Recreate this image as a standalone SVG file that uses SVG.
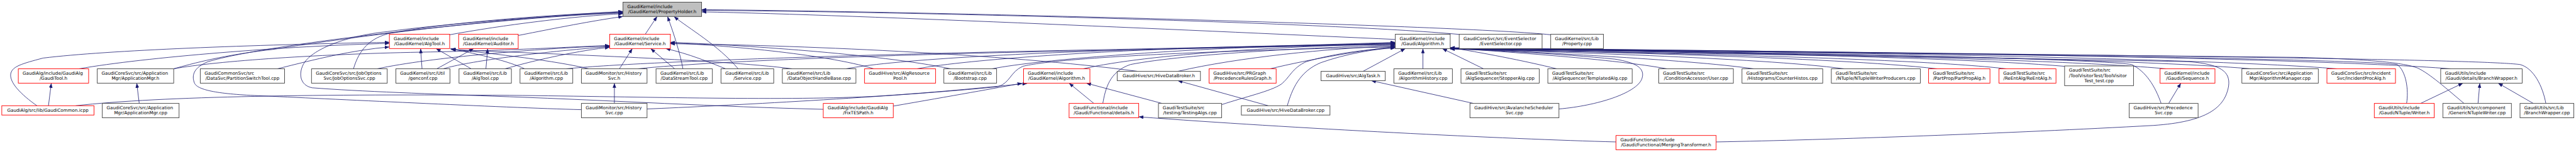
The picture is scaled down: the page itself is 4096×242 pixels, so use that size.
<svg xmlns="http://www.w3.org/2000/svg" width="4096" height="242" viewBox="0 0 4096 242">
<style>
.n rect{fill:#fff;stroke:#404040;stroke-width:1.6}
.r rect{stroke:#ff0000}
.root rect{fill:#bfbfbf;stroke:#404040}
text{font-family:"DejaVu Sans","Liberation Sans",sans-serif;font-size:12.6px;fill:#000}
.m{text-anchor:middle}
.e path{fill:none;stroke:#191970;stroke-width:1.4;marker-end:url(#a)}
</style>
<defs>
<marker id="a" markerUnits="userSpaceOnUse" markerWidth="13" markerHeight="10" refX="13" refY="5" orient="auto" viewBox="0 0 13 10"><path d="M0,0L13,5L0,10z" fill="#191970"/></marker>
</defs>
<rect width="4096" height="242" fill="#fff"/>
<g transform="scale(0.570632)">
<g id="edges" class="e">
<path d="M1253,97 C1400,70 1600,45 1736,38"/>
<path d="M1444,99 C1550,78 1650,58 1736,46"/>
<path d="M985,192 C1000,140 1030,105 1090,92 C1250,62 1550,40 1736,33"/>
<path d="M484,192 C560,170 650,150 760,138 C1000,100 1400,50 1736,32"/>
<path d="M1620,306 C1400,300 900,275 720,267 C600,262 550,250 542,232 C533,210 540,188 580,172 C750,120 1450,45 1736,36"/>
<path d="M2294,305 C2000,298 1700,280 1420,270 C1200,262 1000,255 870,245 C835,238 832,205 845,180 C865,140 960,100 1081,88 C1250,65 1550,42 1736,35"/>
<path d="M1798,95.5 L1831,46"/>
<path d="M1903,192 C1895,150 1880,100 1860,46"/>
<path d="M2057,192 C2000,125 1920,80 1878,46"/>
<path d="M3888,110 C3400,88 2400,42 1955,33"/>
<path d="M4066,96 C3700,62 2500,32 1955,29"/>
<path d="M4321,97 C4100,72 2600,32 1955,27"/>
<path d="M103,295 C60,265 25,230 30,205 C35,185 60,178 120,162 C300,140 700,125 1085,118"/>
<path d="M220,192 C400,160 800,128 1085,121"/>
<path d="M773,192 C880,165 980,140 1085,131"/>
<path d="M484,192 C600,170 900,150 1200,145 C1450,140 1600,130 1699,127"/>
<path d="M1176,192 L1172,135.5"/>
<path d="M1313,192 L1215,135.5"/>
<path d="M1462,192 C1420,172 1340,152 1255,136"/>
<path d="M1641,192 C1550,170 1380,150 1256,137"/>
<path d="M2208,192 C2000,165 1500,150 1257,138"/>
<path d="M1217,192 L1320,135.5"/>
<path d="M1354,192 L1359,135.5"/>
<path d="M1051,192 C1200,160 1500,135 1699,128"/>
<path d="M1235,192 C1300,172 1500,145 1699,130"/>
<path d="M1407,192 C1500,165 1620,140 1699,132"/>
<path d="M1726,192 L1762,135.5"/>
<path d="M1880,192 L1813,135.5"/>
<path d="M2022,192 C1980,175 1920,150 1855,135.5"/>
<path d="M2435,192 C2300,150 2000,125 1868,120"/>
<path d="M2649,192 C2450,150 2050,125 1868,118"/>
<path d="M3170,199 C2800,150 2200,125 1868,122"/>
<path d="M2489,296 C2650,268 2780,245 2848,232"/>
<path d="M211,295 C450,268 900,262 1420,266 C1800,270 2200,282 2450,268 C2650,255 2780,240 2862,233"/>
<path d="M3048,288.5 L2979,232"/>
<path d="M3238,288.5 L3027,232"/>
<path d="M3018,192 C3200,150 3600,128 3888,122"/>
<path d="M3073,288.5 C3080,250 3090,200 3150,180 C3300,150 3700,130 3888,126"/>
<path d="M3282,199 C3450,160 3700,135 3888,128"/>
<path d="M3539,192 C3650,165 3800,140 3888,130"/>
<path d="M3587,295 C3600,250 3620,200 3680,175 C3750,150 3830,137 3888,133"/>
<path d="M3404,292 C3470,270 3540,255 3570,235 C3595,215 3600,190 3640,172 C3720,148 3830,135 3888,134"/>
<path d="M1577,192 C1800,170 2500,150 3000,140 C3400,132 3700,125 3888,118"/>
<path d="M1777,192 C2000,168 2600,150 3000,142 C3400,135 3700,126 3888,120"/>
<path d="M2357,192 C2500,165 2900,145 3300,135 C3600,128 3800,122 3888,121"/>
<path d="M2555,192 C2700,165 3100,140 3400,132 C3650,126 3800,124 3888,123"/>
<path d="M2764,192 C2900,165 3300,138 3500,132 C3700,127 3820,125 3888,124"/>
<path d="M1803,304 C2000,296 2500,270 2780,242 C2815,232 2815,200 2850,185 C2950,160 3400,140 3888,131"/>
<path d="M3798,199 L3916,135.5"/>
<path d="M3965,192 L3965,135.5"/>
<path d="M4134,192 L4019,135.5"/>
<path d="M4338,192 C4250,170 4120,145 4041,133"/>
<path d="M4645,192 C4500,165 4200,145 4041,134"/>
<path d="M4887,192 C4700,165 4250,145 4041,134"/>
<path d="M5139,192 C4900,160 4300,145 4041,135"/>
<path d="M5398,192 C5100,158 4400,145 4041,135"/>
<path d="M5591,192 C5300,158 4400,145 4041,135"/>
<path d="M5753,185 C5400,155 4500,143 4041,134"/>
<path d="M6036,192 C5700,160 4600,143 4041,134"/>
<path d="M6273,192 C5900,160 4700,143 4041,135"/>
<path d="M6512,192 C6100,158 4800,142 4041,134"/>
<path d="M6829,192 C6400,158 5000,142 4041,134"/>
<path d="M6022,288.5 C6005,240 5980,200 5940,180 C5800,160 4800,145 4041,136"/>
<path d="M6706,288.5 C6712,250 6705,200 6680,180 C6500,160 5000,145 4041,135"/>
<path d="M6866,288.5 C6820,250 6770,205 6737,190 C6700,175 6600,165 6400,160 C5500,150 4600,142 4041,134"/>
<path d="M7094,288.5 C7085,240 7060,190 7022,180 C6900,165 6000,155 4041,133"/>
<path d="M4344,304 C4450,295 4560,260 4575,220 C4585,190 4560,175 4500,165 C4350,150 4150,140 4041,136"/>
<path d="M4782,396 C5100,390 5600,372 6000,350 C6150,340 6200,300 6210,240 C6215,200 6190,180 6100,172 C5500,160 4600,148 4041,137"/>
<path d="M6043,288.5 L6077,232"/>
<path d="M6745,288.5 L6863,232"/>
<path d="M6905,288.5 L6910,232"/>
<path d="M7059,288.5 L6961,232"/>
<path d="M4106,288.5 L3821,225"/>
<path d="M3534,295 L3282,225"/>
<path d="M4503,396 C4200,388 3600,358 3173,326"/>
<path d="M1712,288.5 L1712,232"/>
<path d="M388,288.5 L381,232"/>
<path d="M135,295 L143,232"/>
</g>
<g id="PropertyHolder_h" class="n root"><rect x="1736" y="6" width="219" height="40"/><text x="1748" y="22">GaudiKernel/include</text><text class="m" x="1845.5" y="37">/GaudiKernel/PropertyHolder.h</text></g>
<g id="AlgTool_h" class="n r"><rect x="1085" y="95.5" width="168" height="40"/><text x="1097" y="111.5">GaudiKernel/include</text><text class="m" x="1169" y="126.5">/GaudiKernel/AlgTool.h</text></g>
<g id="Auditor_h" class="n r"><rect x="1278" y="95.5" width="166" height="40"/><text x="1290" y="111.5">GaudiKernel/include</text><text class="m" x="1361" y="126.5">/GaudiKernel/Auditor.h</text></g>
<g id="Service_h" class="n r"><rect x="1699" y="95.5" width="169" height="40"/><text x="1711" y="111.5">GaudiKernel/include</text><text class="m" x="1783.5" y="126.5">/GaudiKernel/Service.h</text></g>
<g id="Gaudi_Algorithm_h" class="n"><rect x="3888" y="95.5" width="153" height="40"/><text x="3900" y="111.5">GaudiKernel/include</text><text class="m" x="3964.5" y="126.5">/Gaudi/Algorithm.h</text></g>
<g id="EventSelector_cpp" class="n"><rect x="4066" y="95.5" width="231" height="40"/><text x="4078" y="111.5">GaudiCoreSvc/src/EventSelector</text><text class="m" x="4181.5" y="126.5">/EventSelector.cpp</text></g>
<g id="Property_cpp" class="n"><rect x="4321" y="95.5" width="147" height="40"/><text x="4333" y="111.5">GaudiKernel/src/Lib</text><text class="m" x="4394.5" y="126.5">/Property.cpp</text></g>
<g id="GaudiTool_h" class="n r"><rect x="51" y="192" width="196" height="40"/><text x="63" y="208">GaudiAlg/include/GaudiAlg</text><text class="m" x="149" y="223">/GaudiTool.h</text></g>
<g id="ApplicationMgr_h" class="n"><rect x="271" y="192" width="213" height="40"/><text x="283" y="208">GaudiCoreSvc/src/Application</text><text class="m" x="377.5" y="223">Mgr/ApplicationMgr.h</text></g>
<g id="PartitionSwitchTool_cpp" class="n"><rect x="558" y="192" width="235" height="40"/><text x="570" y="208">GaudiCommonSvc/src</text><text class="m" x="675.5" y="223">/DataSvc/PartitionSwitchTool.cpp</text></g>
<g id="JobOptionsSvc_cpp" class="n"><rect x="868" y="192" width="211" height="40"/><text x="880" y="208">GaudiCoreSvc/src/JobOptions</text><text class="m" x="973.5" y="223">Svc/JobOptionsSvc.cpp</text></g>
<g id="genconf_cpp" class="n"><rect x="1103" y="192" width="151" height="40"/><text x="1115" y="208">GaudiKernel/src/Util</text><text class="m" x="1178.5" y="223">/genconf.cpp</text></g>
<g id="AlgTool_cpp" class="n"><rect x="1279" y="192" width="146" height="40"/><text x="1291" y="208">GaudiKernel/src/Lib</text><text class="m" x="1352" y="223">/AlgTool.cpp</text></g>
<g id="Algorithm_cpp" class="n"><rect x="1449" y="192" width="147" height="40"/><text x="1461" y="208">GaudiKernel/src/Lib</text><text class="m" x="1522.5" y="223">/Algorithm.cpp</text></g>
<g id="HistorySvc_h" class="n"><rect x="1620" y="192" width="183" height="40"/><text x="1632" y="208">GaudiMonitor/src/History</text><text class="m" x="1711.5" y="223">Svc.h</text></g>
<g id="DataStreamTool_cpp" class="n"><rect x="1828" y="192" width="157" height="40"/><text x="1840" y="208">GaudiKernel/src/Lib</text><text class="m" x="1906.5" y="223">/DataStreamTool.cpp</text></g>
<g id="Service_cpp" class="n"><rect x="2009" y="192" width="147" height="40"/><text x="2021" y="208">GaudiKernel/src/Lib</text><text class="m" x="2082.5" y="223">/Service.cpp</text></g>
<g id="DataObjectHandleBase_cpp" class="n"><rect x="2180" y="192" width="205" height="40"/><text x="2192" y="208">GaudiKernel/src/Lib</text><text class="m" x="2282.5" y="223">/DataObjectHandleBase.cpp</text></g>
<g id="AlgResourcePool_h" class="n r"><rect x="2409" y="192" width="198" height="40"/><text x="2421" y="208">GaudiHive/src/AlgResource</text><text class="m" x="2508" y="223">Pool.h</text></g>
<g id="Bootstrap_cpp" class="n"><rect x="2630" y="192" width="147" height="40"/><text x="2642" y="208">GaudiKernel/src/Lib</text><text class="m" x="2703.5" y="223">/Bootstrap.cpp</text></g>
<g id="GaudiKernel_Algorithm_h" class="n r"><rect x="2852" y="192" width="185" height="40"/><text x="2864" y="208">GaudiKernel/include</text><text class="m" x="2944.5" y="223">/GaudiKernel/Algorithm.h</text></g>
<g id="HiveDataBroker_h" class="n"><rect x="3113" y="199" width="232" height="26"/><text class="m" x="3229" y="215.5">GaudiHive/src/HiveDataBroker.h</text></g>
<g id="PrecedenceRulesGraph_h" class="n r"><rect x="3369" y="192" width="187" height="40"/><text x="3381" y="208">GaudiHive/src/PRGraph</text><text class="m" x="3462.5" y="223">/PrecedenceRulesGraph.h</text></g>
<g id="AlgTask_h" class="n"><rect x="3681" y="199" width="179" height="26"/><text class="m" x="3770.5" y="215.5">GaudiHive/src/AlgTask.h</text></g>
<g id="AlgorithmHistory_cpp" class="n"><rect x="3884" y="192" width="163" height="40"/><text x="3896" y="208">GaudiKernel/src/Lib</text><text class="m" x="3965.5" y="223">/AlgorithmHistory.cpp</text></g>
<g id="StopperAlg_cpp" class="n"><rect x="4071" y="192" width="218" height="40"/><text x="4083" y="208">GaudiTestSuite/src</text><text class="m" x="4180" y="223">/AlgSequencer/StopperAlg.cpp</text></g>
<g id="TemplatedAlg_cpp" class="n"><rect x="4313" y="192" width="235" height="40"/><text x="4325" y="208">GaudiTestSuite/src</text><text class="m" x="4430.5" y="223">/AlgSequencer/TemplatedAlg.cpp</text></g>
<g id="User_cpp" class="n"><rect x="4622" y="192" width="208" height="40"/><text x="4634" y="208">GaudiTestSuite/src</text><text class="m" x="4726" y="223">/ConditionAccessor/User.cpp</text></g>
<g id="CounterHistos_cpp" class="n"><rect x="4854" y="192" width="225" height="40"/><text x="4866" y="208">GaudiTestSuite/src</text><text class="m" x="4966.5" y="223">/Histograms/CounterHistos.cpp</text></g>
<g id="NTupleWriterProducers_cpp" class="n"><rect x="5103" y="192" width="248" height="40"/><text x="5115" y="208">GaudiTestSuite/src</text><text class="m" x="5227" y="223">/NTuple/NTupleWriterProducers.cpp</text></g>
<g id="PartPropAlg_h" class="n r"><rect x="5374" y="192" width="171" height="40"/><text x="5386" y="208">GaudiTestSuite/src</text><text class="m" x="5459.5" y="223">/PartProp/PartPropAlg.h</text></g>
<g id="ReEntAlg_h" class="n r"><rect x="5570" y="192" width="159" height="40"/><text x="5582" y="208">GaudiTestSuite/src</text><text class="m" x="5649.5" y="223">/ReEntAlg/ReEntAlg.h</text></g>
<g id="ToolVisitorTest_test_cpp" class="n"><rect x="5753" y="184" width="192" height="55"/><text x="5765" y="200">GaudiTestSuite/src</text><text x="5765" y="215">/ToolVisitorTest/ToolVisitor</text><text class="m" x="5849" y="230">Test_test.cpp</text></g>
<g id="Sequence_h" class="n r"><rect x="6019" y="192" width="153" height="40"/><text x="6031" y="208">GaudiKernel/include</text><text class="m" x="6095.5" y="223">/Gaudi/Sequence.h</text></g>
<g id="AlgorithmManager_cpp" class="n"><rect x="6247" y="192" width="213" height="40"/><text x="6259" y="208">GaudiCoreSvc/src/Application</text><text class="m" x="6353.5" y="223">Mgr/AlgorithmManager.cpp</text></g>
<g id="IncidentProcAlg_h" class="n r"><rect x="6484" y="192" width="191" height="40"/><text x="6496" y="208">GaudiCoreSvc/src/Incident</text><text class="m" x="6579.5" y="223">Svc/IncidentProcAlg.h</text></g>
<g id="BranchWrapper_h" class="n"><rect x="6801" y="192" width="227" height="40"/><text x="6813" y="208">GaudiUtils/include</text><text class="m" x="6914.5" y="223">/Gaudi/details/BranchWrapper.h</text></g>
<g id="GaudiCommon_icpp" class="n r"><rect x="5" y="295" width="257" height="26"/><text class="m" x="133.5" y="311.5">GaudiAlg/src/lib/GaudiCommon.icpp</text></g>
<g id="ApplicationMgr_cpp" class="n"><rect x="285" y="288.5" width="214" height="40"/><text x="297" y="304.5">GaudiCoreSvc/src/Application</text><text class="m" x="392" y="319.5">Mgr/ApplicationMgr.cpp</text></g>
<g id="HistorySvc_cpp" class="n"><rect x="1620" y="288.5" width="183" height="40"/><text x="1632" y="304.5">GaudiMonitor/src/History</text><text class="m" x="1711.5" y="319.5">Svc.cpp</text></g>
<g id="FixTESPath_h" class="n r"><rect x="2294" y="288.5" width="195" height="40"/><text x="2306" y="304.5">GaudiAlg/include/GaudiAlg</text><text class="m" x="2391.5" y="319.5">/FixTESPath.h</text></g>
<g id="details_h" class="n r"><rect x="2979" y="288.5" width="194" height="40"/><text x="2991" y="304.5">GaudiFunctional/include</text><text class="m" x="3076" y="319.5">/Gaudi/Functional/details.h</text></g>
<g id="TestingAlgs_cpp" class="n"><rect x="3228" y="288.5" width="176" height="40"/><text x="3240" y="304.5">GaudiTestSuite/src</text><text class="m" x="3316" y="319.5">/testing/TestingAlgs.cpp</text></g>
<g id="HiveDataBroker_cpp" class="n"><rect x="3459" y="295" width="247" height="26"/><text class="m" x="3582.5" y="311.5">GaudiHive/src/HiveDataBroker.cpp</text></g>
<g id="AvalancheSchedulerSvc_cpp" class="n"><rect x="4096" y="288.5" width="248" height="40"/><text x="4108" y="304.5">GaudiHive/src/AvalancheScheduler</text><text class="m" x="4220" y="319.5">Svc.cpp</text></g>
<g id="PrecedenceSvc_cpp" class="n"><rect x="5933" y="288.5" width="192" height="40"/><text x="5945" y="304.5">GaudiHive/src/Precedence</text><text class="m" x="6029" y="319.5">Svc.cpp</text></g>
<g id="Writer_h" class="n r"><rect x="6616" y="288.5" width="167" height="40"/><text x="6628" y="304.5">GaudiUtils/include</text><text class="m" x="6699.5" y="319.5">/Gaudi/NTuple/Writer.h</text></g>
<g id="GenericNTupleWriter_cpp" class="n"><rect x="6807" y="288.5" width="191" height="40"/><text x="6819" y="304.5">GaudiUtils/src/component</text><text class="m" x="6902.5" y="319.5">/GenericNTupleWriter.cpp</text></g>
<g id="BranchWrapper_cpp" class="n"><rect x="7022" y="288.5" width="150" height="40"/><text x="7034" y="304.5">GaudiUtils/src/Lib</text><text class="m" x="7097" y="319.5">/BranchWrapper.cpp</text></g>
<g id="MergingTransformer_h" class="n r"><rect x="4503" y="378" width="279" height="40"/><text x="4515" y="394">GaudiFunctional/include</text><text class="m" x="4642.5" y="409">/Gaudi/Functional/MergingTransformer.h</text></g>
</g>
</svg>
